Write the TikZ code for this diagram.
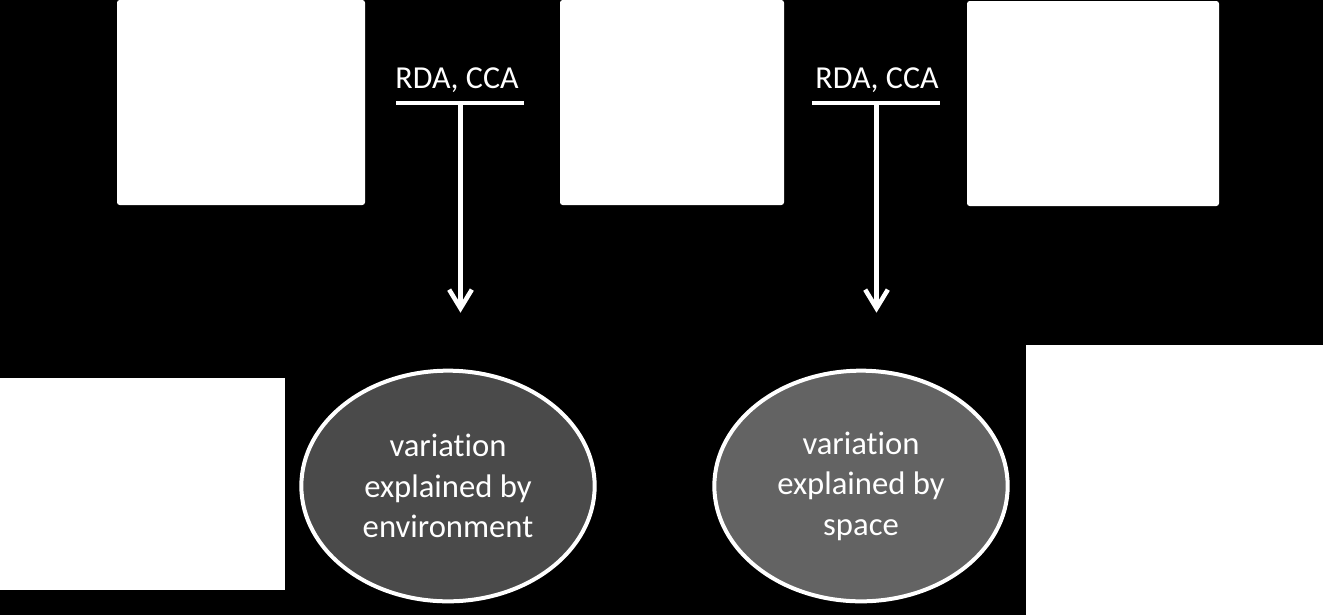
\documentclass[tikz,border=0pt]{standalone}
\usepackage{fontspec}
\setmainfont[Ligatures=NoCommon]{Carlito}
\usetikzlibrary{shapes.geometric,arrows.meta}
\definecolor{envgray}{HTML}{4A4A4A}
\definecolor{spacegray}{HTML}{636363}
\begin{document}
\begin{tikzpicture}[x=0.75pt,y=-0.75pt,
    box/.style={fill=white,draw=none,inner sep=0pt},
    method/.style={text=white,font=\fontsize{24}{28}\selectfont,anchor=base},
    bar/.style={draw=white,line width=3.4pt},
    arr/.style={draw=white,line width=3.4pt,-{Straight Barb[length=14pt,width=17pt]}},
    part/.style={ellipse,draw=white,line width=3pt,inner sep=0pt,
        minimum width=220pt,minimum height=173pt,
        text=white,align=center,font=\fontsize{24.5}{30.4}\selectfont}]
    % Background
    \fill[black] (0,0) rectangle (1323,615);
    \useasboundingbox (0,0) rectangle (1323,615);

    % Upper row of boxes
    \node[box,rounded corners=2pt,minimum width=186pt,minimum height=153.75pt] (sp) at (241,102.5) {};
    \node[box,rounded corners=2pt,minimum width=168pt,minimum height=153.75pt] (env) at (672,102.5) {};
    \node[box,rounded corners=2pt,minimum width=189pt,minimum height=153.75pt] (xy) at (1093,103.5) {};

    % Lower boxes
    \node[box,minimum width=213.75pt,minimum height=159pt] (pure) at (142.5,484) {};
    \node[box,minimum width=222.75pt,minimum height=202.5pt] (resid) at (1174.5,480) {};

    % Explained parts
    \node[part,fill=envgray] (envpart) at (448,486) {variation\\explained by\\environment};
    \node[part,fill=spacegray] (spacepart) at (861,486) {variation\\explained by\\space};

    % Methods with T-bars
    \node[method] (rda1) at (457,88) {RDA, CCA};
    \node[method] (rda2) at (877,88) {RDA, CCA};
    \draw[bar] (396,103) -- (524,103);
    \draw[bar] (812,103) -- (940,103);
    \coordinate (t1) at (460.5,103);
    \coordinate (t2) at (876.5,103);

    % Arrows down to the explained parts
    \draw[arr,shorten >=42pt] (t1) -- (t1 |- envpart.north);
    \draw[arr,shorten >=42pt] (t2) -- (t2 |- spacepart.north);
\end{tikzpicture}
\end{document}
